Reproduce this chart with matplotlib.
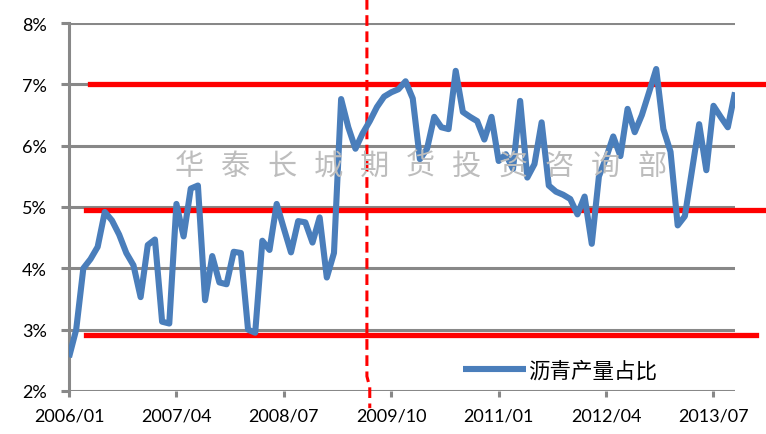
import numpy as np
import matplotlib
matplotlib.use('Agg')
import matplotlib.pyplot as plt
from matplotlib.ticker import FuncFormatter

plt.rcParams['font.family'] = ['Lato', 'Noto Sans CJK SC', 'DejaVu Sans']

## Data: monthly share of asphalt output (%) ##

share = [2.55, 3.0, 4.0, 4.15, 4.35, 4.92, 4.78, 4.55, 4.25, 4.05,
         3.53, 4.38, 4.47, 3.13, 3.1, 5.05, 4.52, 5.3, 5.35, 3.48,
         4.2, 3.77, 3.74, 4.27, 4.25, 3.0, 2.95, 4.45, 4.3, 5.05,
         4.65, 4.26, 4.77, 4.75, 4.42, 4.83, 3.85, 4.25, 6.76, 6.3,
         5.95, 6.2, 6.4, 6.63, 6.8, 6.87, 6.92, 7.05, 6.77, 5.78,
         5.95, 6.47, 6.3, 6.27, 7.22, 6.55, 6.47, 6.4, 6.1, 6.47,
         5.75, 5.86, 5.62, 6.73, 5.48, 5.7, 6.38, 5.35, 5.25, 5.2,
         5.13, 4.88, 5.17, 4.4, 5.5, 5.8, 6.15, 5.83, 6.6, 6.22,
         6.5, 6.87, 7.25, 6.27, 5.9, 4.7, 4.85, 5.6, 6.35, 5.6,
         6.65, 6.47, 6.3, 6.87]
tick_labels = ['2006/01', '2007/04', '2008/07', '2009/10', '2011/01', '2012/04', '2013/07']
yticks = [2, 3, 4, 5, 6, 7, 8]
levels = [7.0, 4.95, 2.92]          # red reference lines
series_name = '沥青产量占比'
watermark = '华泰长城期货投资咨询部'

months = np.arange(len(share))

## Figure ##

fig = plt.figure(figsize=(7.66, 4.35), dpi=100)
ax = fig.add_axes([0.0901, 0.0989, 0.8694, 0.8459])

grey = '#888888'
for v in yticks:
    ax.axhline(v, color=grey, lw=2.2, zorder=1)

# watermark, letters spaced out
for i, ch in enumerate(watermark):
    fig.text((189 + i * 46.3) / 766, 1 - 167 / 435, ch, fontsize=21,
             color='#bdbdbd', ha='center', va='center',
             family='Noto Sans CJK SC', zorder=2)

# red levels (run past the plot on the right like the original)
ax.plot([2.9, 97.6], [levels[0]] * 2, color='#ff0000', lw=3.8, clip_on=False, zorder=3)
ax.plot([2.4, 97.6], [levels[1]] * 2, color='#ff0000', lw=3.8, clip_on=False, zorder=3)
ax.plot([2.4, 96.0], [levels[2]] * 2, color='#ff0000', lw=3.8, clip_on=False, zorder=3)

# dashed divider
ax.plot([41.6, 41.6, 42.0, 42.0], [8.4, 2.24, 2.06, 1.72], color='#ff0000',
        lw=2.2, ls=(0, (3.5, 1.8)), clip_on=False, zorder=4)

line, = ax.plot(months, share, color='#4a7ebb', lw=4.4, zorder=5,
                solid_joinstyle='round', solid_capstyle='butt')

ax.set_xlim(0, 93)
ax.set_ylim(2, 8)
ax.set_xticks(np.arange(0, 91, 15))
ax.set_xticklabels(tick_labels)
ax.set_yticks(yticks)
ax.yaxis.set_major_formatter(FuncFormatter(lambda v, p: '%d%%' % v))

for s in ['top', 'right', 'bottom']:
    ax.spines[s].set_visible(False)
ax.spines['left'].set_color(grey)
ax.spines['left'].set_linewidth(2.2)
ax.tick_params(axis='y', length=6, width=2.2, color=grey, labelsize=13, pad=10)
ax.tick_params(axis='x', length=4, width=2.2, color=grey, labelsize=13, pad=8)

leg = ax.legend([line], [series_name], loc='lower right', bbox_to_anchor=(0.912, -0.028),
                frameon=False, handlelength=2.9, handletextpad=0.1,
                prop={'family': ['Noto Sans CJK SC'], 'size': 15.5})

fig.savefig('out.png', dpi=100)
